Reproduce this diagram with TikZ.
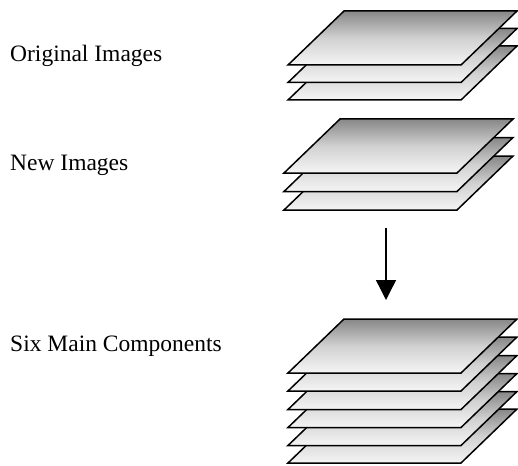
\documentclass[tikz,border=0pt]{standalone}
\usepackage{fontspec}
\setmainfont{Liberation Serif}
\usetikzlibrary{arrows.meta}
\tikzset{
  sheet/.style={draw=black, line width=1.5pt, line join=miter,
    top color=black!47, bottom color=black!4, middle color=black!18},
  label/.style={anchor=base west, inner sep=0pt, font=\fontsize{23.5}{28}\selectfont},
  flow/.style={line width=1.4pt, -{Triangle[length=20pt,width=20pt]}}
}
% one sheet: #1 = x of lower-left corner, #2 = y of lower edge
\newcommand{\plate}[2]{%
  \path[sheet] (#1,#2) -- ++(173,0) -- ++(56,-54) -- ++(-173,0) -- cycle;}
\begin{document}
\begin{tikzpicture}[x=1pt,y=-1pt]
  \useasboundingbox (0,0) rectangle (518,465);

  % original images
  \plate{288}{100}
  \plate{288}{82.5}
  \plate{288}{65}

  % new images
  \plate{284}{210}
  \plate{284}{191.5}
  \plate{284}{173}

  % six main components
  \plate{288}{463}
  \plate{288}{445.5}
  \plate{288}{427.5}
  \plate{288}{409.5}
  \plate{288}{391}
  \plate{288}{373}

  \node[label] (orig) at (10,61.5) {Original Images};
  \node[label] (new)  at (10,170) {New Images};
  \node[label] (six)  at (10,351) {Six Main Components};

  \coordinate (from) at (386,228);
  \coordinate (to)   at (386,300);
  \draw[flow] (from) -- (to);
\end{tikzpicture}
\end{document}
